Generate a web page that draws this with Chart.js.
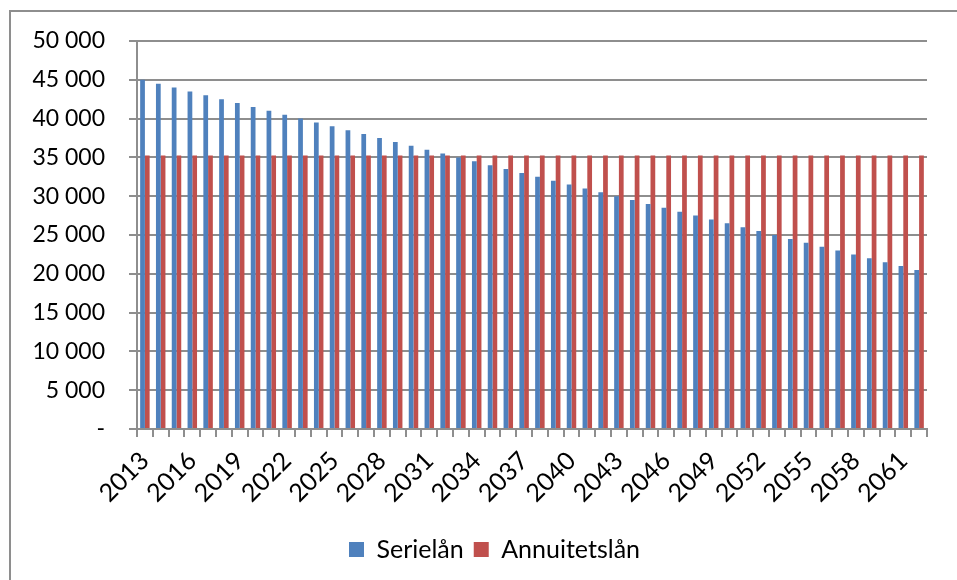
<!DOCTYPE html>
<html>
<head>
<meta charset="utf-8">
<script src="https://cdn.jsdelivr.net/npm/chart.js@4.4.1/dist/chart.umd.min.js"></script>
<style>
    html, body { margin: 0; padding: 0; background: #fff; }
    #wrap { position: relative; width: 957px; height: 580px; }
    #frame {
        position: absolute; left: 9px; top: 10px; right: 0; bottom: 0;
        border-top: 2px solid #8e8e8e; border-left: 2px solid #8e8e8e;
        pointer-events: none;
    }
    canvas { position: absolute; left: 0; top: 0; }
</style>
</head>
<body>
<div id="wrap">
    <canvas id="loanChart" width="957" height="580"></canvas>
    <div id="frame"></div>
</div>
<script>
// --- data ---
const years = [
    '2013', '2014', '2015', '2016', '2017', '2018', '2019', '2020', '2021', '2022',
    '2023', '2024', '2025', '2026', '2027', '2028', '2029', '2030', '2031', '2032',
    '2033', '2034', '2035', '2036', '2037', '2038', '2039', '2040', '2041', '2042',
    '2043', '2044', '2045', '2046', '2047', '2048', '2049', '2050', '2051', '2052',
    '2053', '2054', '2055', '2056', '2057', '2058', '2059', '2060', '2061', '2062'
];
const serielan = [
    45000, 44500, 44000, 43500, 43000, 42500, 42000, 41500, 41000, 40500,
    40000, 39500, 39000, 38500, 38000, 37500, 37000, 36500, 36000, 35500,
    35000, 34500, 34000, 33500, 33000, 32500, 32000, 31500, 31000, 30500,
    30000, 29500, 29000, 28500, 28000, 27500, 27000, 26500, 26000, 25500,
    25000, 24500, 24000, 23500, 23000, 22500, 22000, 21500, 21000, 20500
];
const annuitetslan = [
    35260, 35260, 35260, 35260, 35260, 35260, 35260, 35260, 35260, 35260,
    35260, 35260, 35260, 35260, 35260, 35260, 35260, 35260, 35260, 35260,
    35260, 35260, 35260, 35260, 35260, 35260, 35260, 35260, 35260, 35260,
    35260, 35260, 35260, 35260, 35260, 35260, 35260, 35260, 35260, 35260,
    35260, 35260, 35260, 35260, 35260, 35260, 35260, 35260, 35260, 35260
];
const yTicks = [0, 5000, 10000, 15000, 20000, 25000, 30000, 35000, 40000, 45000, 50000];

const gridColor = '#8e8e8e';
const yFont = { family: 'Lato', size: 23 };
const xFont = { family: 'Lato', size: 25 };
const legendFont = { family: 'Lato', size: 25 };

const formatThousands = v => v === 0 ? '-' : String(v).replace(/\B(?=(\d{3})+(?!\d))/g, ' ');

// legend in the original sits a bit right of the canvas centre
const legendShift = {
    id: 'legendShift',
    afterLayout(chart) {
        const legend = chart.legend;
        if (!legend) return;
        legend.left += 31;
        legend.right += 31;
    }
};

new Chart(document.getElementById('loanChart'), {
    type: 'bar',
    data: {
        labels: years,
        datasets: [{
            label: 'Serielån',
            data: serielan,
            backgroundColor: '#4f81bd'
        }, {
            label: 'Annuitetslån',
            data: annuitetslan,
            backgroundColor: '#c0504d'
        }]
    },
    options: {
        responsive: false,
        animation: false,
        datasets: { bar: { categoryPercentage: 0.6, barPercentage: 1.0 } },
        layout: { padding: { top: 41, right: 30, left: 0, bottom: 8 } },
        scales: {
            x: {
                grid: { offset: true, drawOnChartArea: false, tickLength: 8, color: gridColor, lineWidth: 2 },
                border: { color: gridColor, width: 2 },
                ticks: {
                    color: '#000', font: xFont, autoSkip: false, maxRotation: 45, minRotation: 45, padding: 9,
                    callback: (v, i) => i % 3 === 0 ? years[i] : ''
                },
                afterFit: scale => { scale.height = 98; }
            },
            y: {
                min: 0, max: 50000,
                grid: { color: gridColor, lineWidth: 2, tickLength: 8 },
                border: { color: gridColor, width: 2 },
                afterBuildTicks: scale => { scale.ticks = yTicks.map(v => ({ value: v })); },
                ticks: { color: '#000', font: yFont, padding: 24, callback: v => formatThousands(v) },
                afterFit: scale => { scale.width = 137; }
            }
        },
        plugins: {
            legend: {
                position: 'bottom',
                labels: { color: '#000', font: legendFont, boxWidth: 15, boxHeight: 15, padding: 10 }
            },
            tooltip: { enabled: false }
        }
    },
    plugins: [legendShift]
});
</script>
</body>
</html>
